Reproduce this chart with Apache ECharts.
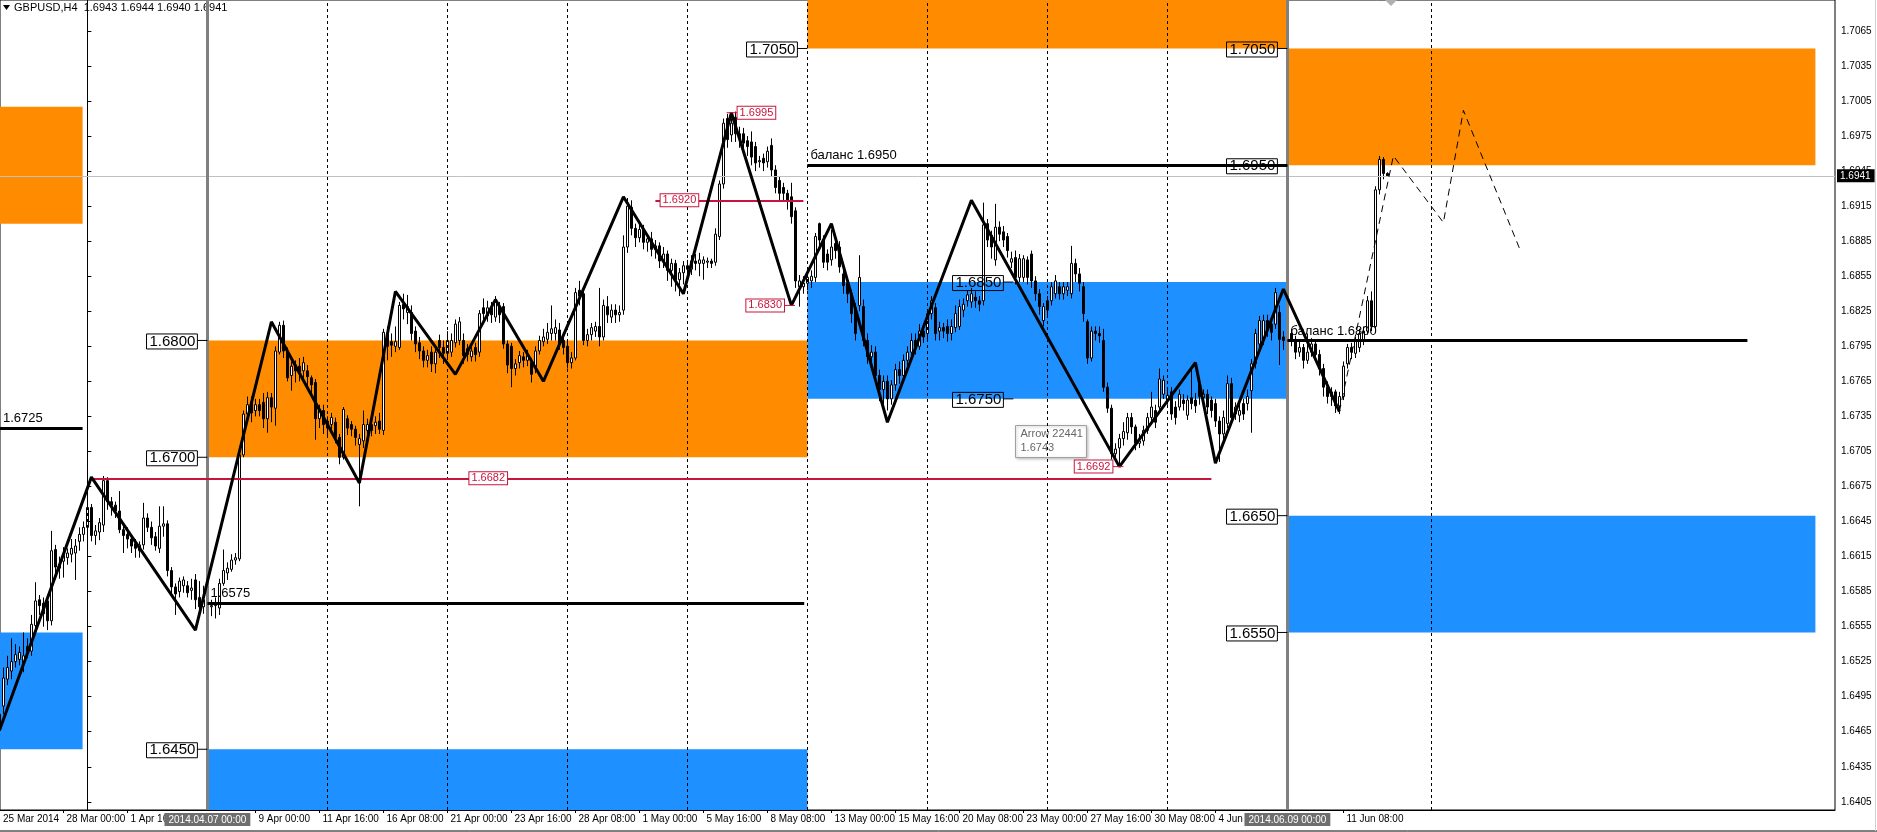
<!DOCTYPE html>
<html>
<head>
<meta charset="utf-8">
<script src="https://cdn.jsdelivr.net/npm/echarts@6/dist/echarts.min.js"></script>
<style>
  html, body { margin: 0; padding: 0; background: #fff; }
  #chart { width: 1877px; height: 832px; }
</style>
</head>
<body>
<div id="chart"></div>
<script>
// GBPUSD H4. x = bar number, bar 0 = Mon 31 Mar 2014 00:00 (30 bars a week)
// candles are [open, close, low, high] in pips above 1.6000
const wk0 = [ // from 25 Mar 08:00
  [470,480,462,486],[487,511,480,520],[510,520,505,530],[517,525,510,545],[525,531,520,540],
  [527,533,522,538],[524,530,516,550],[538,534,528,545],[534,557,530,565],[556,577,550,593],
  [578,573,565,582],[575,566,555,580],[577,560,552,582],[560,620,556,637],[621,606,600,625],
  [605,608,596,615],[611,616,597,623],[614,618,608,622],[617,622,610,630],[618,624,595,630],
  [628,634,620,640],[634,640,628,645]
];
const wk1 = [
  [640,657,636,662],[657,633,628,660],[633,637,625,642],[636,644,629,648],[642,680,636,684],
  [680,662,655,683],[662,659,650,666],[659,654,648,662],[654,638,635,671],[638,633,618,642],
  [634,630,622,640],[630,624,618,634],[626,622,614,630],[620,625,614,628],[625,648,621,661],
  [648,640,636,652],[640,631,625,645],[632,624,620,636],[622,641,618,658],[641,643,632,658],
  [643,603,598,646],[603,589,583,606],[589,583,565,592],[585,594,580,597],[590,595,584,598],
  [590,584,580,594],[586,588,578,596],[595,578,570,600],[580,572,566,594],[572,578,566,590]
];
const wk2 = [
  [576,572,566,580],[572,573,564,578],[573,575,562,580],[571,592,565,596],[592,603,590,621],
  [601,605,595,610],[604,612,602,617],[612,614,608,618],[613,702,611,705],[702,737,700,740],
  [737,745,730,752],[747,738,730,752],[740,745,735,750],[745,740,735,750],[747,733,725,755],
  [733,751,721,756],[751,743,730,755],[742,791,727,795],[790,813,788,816],[813,791,785,817],
  [791,768,765,794],[770,778,757,782],[779,774,764,783],[778,773,765,785],[774,781,768,786],
  [774,769,760,779],[768,762,752,770],[764,733,715,767],[733,740,725,745],[740,728,720,745]
];
const wk3 = [
  [731,725,718,735],[728,734,722,738],[730,717,712,734],[717,700,694,720],[700,741,698,743],
  [733,725,719,736],[728,724,718,731],[724,717,710,727],[711,716,658,720],[714,728,708,740],
  [723,728,718,733],[728,723,718,733],[727,730,720,735],[731,724,720,738],[723,807,719,810],
  [805,795,783,812],[799,796,786,806],[795,799,790,812],[794,830,792,833],[831,827,818,840],
  [824,829,814,839],[824,806,800,830],[808,797,790,812],[798,791,784,803],[791,783,777,795],
  [783,787,777,792],[790,780,773,795],[780,790,772,794],[800,794,785,805],[794,789,780,800]
];
const wk4 = [
  [789,800,785,808],[790,800,786,806],[798,814,794,818],[800,816,796,820],[800,787,780,806],
  [793,788,782,797],[786,791,782,796],[794,788,782,798],[790,823,786,826],[828,823,816,836],
  [821,828,816,834],[828,822,815,833],[820,835,816,838],[829,822,815,833],[829,797,793,832],
  [797,779,772,800],[795,776,760,798],[776,780,770,784],[781,787,776,791],[786,783,777,790],
  [783,787,778,792],[781,771,764,785],[777,791,772,795],[791,800,788,804],[799,803,795,810],
  [801,807,797,815],[806,810,800,830],[806,811,800,818],[809,797,792,815],[800,794,788,805]
];
const wk5 = [
  [795,781,776,800],[781,785,776,790],[785,841,783,845],[843,838,830,851],[840,800,796,845],
  [800,805,795,810],[805,811,800,815],[808,812,803,816],[812,803,795,845],[803,830,800,835],
  [829,822,815,838],[820,826,815,831],[826,822,815,831],[822,824,816,830],[826,880,822,890],
  [880,915,875,922],[914,896,890,920],[896,888,880,900],[888,895,884,902],[895,884,878,899],
  [884,887,876,891],[887,878,872,893],[878,881,870,886],[881,868,862,884],[868,874,862,880],
  [874,860,851,877],[860,866,846,870],[866,852,842,869],[852,858,838,862],[858,864,848,868]
];
const wk6 = [
  [864,861,855,869],[861,868,856,873],[868,866,860,874],[866,869,855,875],[866,869,852,872],
  [867,868,862,871],[868,866,862,870],[867,891,864,896],[889,934,886,937],[934,986,930,990],
  [990,972,965,994],[976,986,970,990],[991,977,970,996],[977,973,965,983],[977,969,962,982],
  [971,966,958,975],[970,957,950,979],[966,952,945,970],[953,954,948,958],[956,952,945,960],
  [953,962,948,966],[967,946,940,973],[946,931,926,950],[937,926,920,940],[931,926,920,935],
  [926,920,912,929],[923,906,900,935],[911,851,845,914],[846,851,829,856],[846,849,840,855]
];
const wk7 = [
  [849,854,843,860],[851,855,845,860],[854,889,850,892],[900,886,880,901],[886,867,862,890],
  [874,867,860,878],[869,880,864,895],[883,877,870,888],[880,863,858,885],[857,847,840,861],
  [849,840,832,852],[840,823,815,843],[828,806,800,832],[830,854,825,873],[829,800,795,835],
  [800,786,780,806],[786,790,778,796],[790,770,765,795],[770,758,748,775],[758,765,742,770],
  [765,750,740,770],[750,762,745,766],[762,775,757,780],[775,770,763,782],[770,783,765,788],
  [783,790,776,795],[790,800,785,806],[800,795,788,806],[795,808,792,814],[808,803,798,815]
];
const wk8 = [
  [806,823,800,827],[823,834,818,838],[828,806,800,832],[808,811,800,816],[811,808,802,815],
  [812,806,799,818],[806,812,800,818],[811,823,807,830],[812,829,809,835],[826,831,820,836],
  [834,839,829,843],[833,840,828,845],[837,834,828,842],[834,831,825,838],[834,899,830,918],
  [900,886,880,904],[890,880,870,894],[869,897,864,917],[897,891,885,902],[893,886,880,898],
  [889,877,871,892],[867,870,862,876],[871,854,848,877],[854,870,850,874],[854,870,850,873],
  [869,854,848,872],[874,851,845,877],[851,840,834,855],[840,829,822,844],[817,829,812,832]
];
const wk9 = [
  [834,826,820,838],[834,846,830,850],[840,851,836,856],[846,840,835,850],[840,846,835,850],
  [843,846,838,850],[840,866,836,881],[866,857,850,870],[857,849,842,862],[846,823,816,850],
  [816,785,780,818],[785,808,782,812],[808,806,800,812],[806,804,798,812],[800,760,756,810],
  [760,742,738,764],[742,703,698,745],[703,707,698,712],[708,716,692,720],[716,722,710,730],
  [721,734,715,738],[734,726,720,738],[726,712,706,728],[712,714,708,720],[714,723,710,727],
  [723,734,720,738],[734,743,730,756],[740,730,725,745],[743,767,740,776],[754,766,750,770]
];
const wk10 = [
  [749,753,745,758],[756,737,732,760],[743,734,728,748],[743,754,740,758],[749,746,740,754],
  [736,749,732,753],[751,746,741,778],[749,744,738,755],[763,752,745,768],[751,754,746,758],
  [754,743,737,758],[749,740,734,752],[746,731,726,750],[731,720,696,735],[720,734,712,740],
  [729,763,725,770],[763,734,728,768],[737,743,732,747],[736,740,730,746],[746,737,732,750],
  [746,752,740,758],[757,780,721,784],[780,806,776,810],[797,817,792,821],[800,817,796,822],
  [817,809,803,822],[814,807,800,818],[814,841,810,845],[824,801,779,830],[803,800,792,808]
];
const wk11 = [
  [800,806,796,812],[806,801,795,810],[801,790,784,804],[790,794,786,799],[794,783,776,797],
  [783,790,780,806],[790,797,786,802],[797,788,782,800],[788,776,770,792],[776,760,752,780],
  [760,752,746,765],[752,756,744,760],[756,744,738,758],[744,752,737,756],[752,778,749,782],
  [780,794,776,797],[794,790,784,798],[789,800,785,803],[794,806,790,810],[800,808,796,812],
  [808,834,805,838],[834,812,808,842],[812,929,810,932],[929,955,925,958],[955,943,938,957],
  [943,941,940,944]
];
const weeks = [wk0, wk1, wk2, wk3, wk4, wk5, wk6, wk7, wk8, wk9, wk10, wk11];
const weekFirstBar = [-22, 0, 30, 60, 90, 120, 150, 180, 210, 240, 270, 300];

// zigzag + hand drawn forecast
const zigzagX = [-22, 1, 27, 46, 68, 77, 92, 102, 114, 134, 149, 161, 176, 186, 200, 221, 258, 277, 282, 299, 313];
const zigzagY = [1.6466, 1.6683, 1.6552, 1.6816, 1.6678, 1.6842, 1.6771, 1.6835, 1.6765, 1.6923, 1.6840,
                 1.6995, 1.6830, 1.6900, 1.6730, 1.6920, 1.6692, 1.6781, 1.6695, 1.6844, 1.6739];
const forecastX = [313, 326.5, 339, 344, 358];
const forecastY = [1.6739, 1.6958, 1.6901, 1.6997, 1.6879];

// supply / demand zones
const zoneFrom = [-23, -23, 30, 30, 180, 180, 300, 300];
const zoneTo   = [-1.2, -1.2, 180, 180, 300, 300, 432, 432];
const zoneLow  = [1.6900, 1.6450, 1.6700, 1.6350, 1.7050, 1.6750, 1.6950, 1.6550];
const zoneHigh = [1.7000, 1.6550, 1.6800, 1.6450, 1.7150, 1.6850, 1.7050, 1.6650];
const zoneKind = ['sell', 'buy', 'sell', 'buy', 'sell', 'buy', 'sell', 'buy'];

// boxed level tags
const tagX = [30, 30, 30, 180, 231.5, 231.5, 300, 300, 300, 300];
const tagY = [1.6800, 1.6700, 1.6450, 1.7050, 1.6850, 1.6750, 1.7050, 1.6950, 1.6650, 1.6550];

// thick black levels
const levelFrom  = [-23, 30, 180, 300];
const levelTo    = [-1.2, 179.2, 300, 415];
const levelPrice = [1.6725, 1.6575, 1.6950, 1.6800];
const levelText  = ['1.6725', '1.6575', 'баланс 1.6950', 'баланс 1.6800'];

// red levels and red price tags
const redFrom  = [1.4, 142];
const redTo    = [281, 179];
const redPrice = [1.6682, 1.6920];
const redTagX  = [95.5, 143.3, 159.8, 176.9, 259];
const redTagY  = [1.6682, 1.6920, 1.6995, 1.6830, 1.6692];
const redTagSide = [0, 0, 1, -1, -1];

const weekLines = [0, 60, 90, 120, 150, 180, 210, 240, 270, 336];
const markedBars = [30, 300];
const markedText = ['2014.04.07 00:00', '2014.06.09 00:00'];

const xTickBars = [-21.85, -6, 10, 42, 58, 74, 90, 106, 122, 138, 154, 170, 186, 202, 218, 234, 250, 266, 282, 314];
const xTickText = ['25 Mar 2014', '28 Mar 00:00', '1 Apr 16:00', '9 Apr 00:00', '11 Apr 16:00', '16 Apr 08:00',
  '21 Apr 00:00', '23 Apr 16:00', '28 Apr 08:00', '1 May 00:00', '5 May 16:00', '8 May 08:00', '13 May 00:00',
  '15 May 16:00', '20 May 08:00', '23 May 00:00', '27 May 16:00', '30 May 08:00', '4 Jun 00:00', '11 Jun 08:00'];
const yTicks = [1.6405, 1.6435, 1.6465, 1.6495, 1.6525, 1.6555, 1.6585, 1.6615, 1.6645, 1.6675, 1.6705, 1.6735,
  1.6765, 1.6795, 1.6825, 1.6855, 1.6885, 1.6915, 1.6945, 1.6975, 1.7005, 1.7035, 1.7065];
const lastPrice = 1.6941;

const xMin = -21.85, xMax = 436.9;
const yMin = 1.6398, yMax = 1.70915;
const FONT = '"Liberation Sans", Arial, sans-serif';
const zoneColor = { sell: '#ff8c00', buy: '#1e90ff' };

const px = p => +(1.6 + p / 10000).toFixed(4);
const candles = [];
weeks.forEach((wk, w) => wk.forEach((b, k) => {
  candles.push([weekFirstBar[w] + k, px(b[0]), px(b[1]), px(b[2]), px(b[3])]);
}));

const chart = echarts.init(document.getElementById('chart'));

const option = {
  animation: false,
  backgroundColor: '#fff',
  grid: { left: 0, right: 42, top: 0, bottom: 22, show: true, borderColor: '#000', borderWidth: 1 },
  xAxis: [{
    type: 'value', min: xMin, max: xMax, position: 'bottom',
    axisLine: { show: true, lineStyle: { color: '#000' } },
    axisTick: { show: true, customValues: xTickBars.slice(1), length: 3, lineStyle: { color: '#000' } },
    axisLabel: {
      customValues: xTickBars, align: 'left', margin: 4, padding: [0, 0, 0, 3],
      fontSize: 10, fontFamily: FONT, color: '#000',
      formatter: v => xTickText[xTickBars.indexOf(v)] || ''
    },
    splitLine: { show: false }
  }, {
    type: 'value', min: xMin, max: xMax, position: 'bottom',
    axisLine: { show: false }, axisTick: { show: false }, splitLine: { show: false },
    axisLabel: {
      customValues: markedBars, align: 'center', margin: 3,
      fontSize: 10, fontFamily: FONT, color: '#fff', backgroundColor: '#6e6e6e', padding: [2, 4, 1, 4],
      formatter: v => markedText[markedBars.indexOf(v)] || ''
    }
  }],
  yAxis: {
    type: 'value', position: 'right', min: yMin, max: yMax,
    axisLine: { show: true, lineStyle: { color: '#000' } },
    axisTick: { show: true, customValues: yTicks, length: 4, lineStyle: { color: '#000' } },
    axisLabel: {
      customValues: yTicks, margin: 6, fontSize: 10, fontFamily: FONT, color: '#000',
      formatter: v => v.toFixed(4)
    },
    splitLine: { show: false }
  },
  series: [
    {
      name: 'zones', type: 'line', data: [], z: 1, silent: true,
      markArea: {
        silent: true,
        data: zoneFrom.map((x0, k) => [
          { xAxis: Math.max(x0, xMin), yAxis: Math.max(zoneLow[k], yMin),
            itemStyle: { color: zoneColor[zoneKind[k]] } },
          { xAxis: Math.min(zoneTo[k], xMax), yAxis: Math.min(zoneHigh[k], yMax) }
        ])
      }
    },
    {
      name: 'separators', type: 'line', data: [], z: 2, silent: true,
      markLine: {
        silent: true, symbol: ['none', 'none'], precision: 4,
        data: weekLines.map(x => ({ xAxis: x, lineStyle: { color: '#000', width: 1, type: [3, 3] }, label: { show: false } }))
      }
    },
    {
      name: 'last', type: 'line', data: [], z: 2, silent: true,
      markLine: {
        silent: true, symbol: ['none', 'none'], precision: 4,
        data: [{
          yAxis: lastPrice, lineStyle: { color: '#c0c0c0', width: 1, type: 'solid' },
          label: { show: true, position: 'end', distance: 2, formatter: lastPrice.toFixed(4),
            backgroundColor: '#000', color: '#fff', fontSize: 10, fontFamily: FONT, padding: [2, 4, 1, 3] }
        }]
      }
    },
    {
      name: 'GBPUSD', type: 'candlestick', z: 3, barWidth: 3,
      data: candles, encode: { x: 0, y: [1, 2, 3, 4] },
      itemStyle: { color: '#fff', color0: '#000', borderColor: '#000', borderColor0: '#000', borderWidth: 1 }
    },
    {
      name: 'marks', type: 'line', data: [], z: 4, silent: true,
      markLine: {
        silent: true, symbol: ['none', 'none'], precision: 4,
        data: markedBars.map(x => ({ xAxis: x, lineStyle: { color: '#808080', width: 3, type: 'solid' }, label: { show: false } }))
      }
    },
    {
      name: 'levels', type: 'line', data: [], z: 5, silent: true,
      markLine: {
        silent: true, symbol: ['none', 'none'], precision: 4,
        lineStyle: { color: '#000', width: 3, type: 'solid' },
        label: { show: true, position: 'insideStartTop', distance: 3, formatter: '{b}',
          color: '#000', fontSize: 13, fontFamily: FONT },
        data: levelFrom.map((x0, k) => [
          { coord: [Math.max(x0, xMin), levelPrice[k]], name: levelText[k] },
          { coord: [levelTo[k], levelPrice[k]] }
        ]).concat(redFrom.map((x0, k) => [
          { coord: [x0, redPrice[k]], name: '', lineStyle: { color: '#c8143c', width: 2 }, label: { show: false } },
          { coord: [redTo[k], redPrice[k]] }
        ]))
      }
    },
    {
      name: 'zigzag', type: 'line', z: 5, silent: true, symbol: 'none',
      data: zigzagX.map((x, k) => [x, zigzagY[k]]),
      lineStyle: { color: '#000', width: 3 }
    },
    {
      name: 'forecast', type: 'line', z: 5, silent: true, symbol: 'none',
      data: forecastX.map((x, k) => [x, forecastY[k]]),
      lineStyle: { color: '#000', width: 1, type: [7, 5] }
    },
    {
      name: 'tags', type: 'custom', z: 6, silent: true,
      data: tagX.map((x, k) => [x, tagY[k]]),
      renderItem: (params, api) => {
        const p = api.coord([api.value(0), api.value(1)]);
        return { type: 'group', children: [
          { type: 'line', shape: { x1: p[0] - 10, y1: p[1], x2: p[0], y2: p[1] }, style: { stroke: '#000', lineWidth: 1 } },
          { type: 'text', x: p[0] - 10, y: p[1] + 1, style: {
            text: api.value(1).toFixed(4), align: 'right', verticalAlign: 'middle',
            font: '15px ' + FONT, fill: '#000', borderColor: '#000', borderWidth: 1, padding: [0, 2, 0, 3] } }
        ] };
      }
    },
    {
      name: 'redTags', type: 'custom', z: 6, silent: true,
      data: redTagX.map((x, k) => [x, redTagY[k], redTagSide[k]]),
      renderItem: (params, api) => {
        const p = api.coord([api.value(0), api.value(1)]);
        const side = api.value(2);
        const kids = [];
        let tx = p[0];
        if (side !== 0) {
          kids.push({ type: 'line', shape: { x1: p[0], y1: p[1], x2: p[0] + side * 11, y2: p[1] },
            style: { stroke: '#c8143c', lineWidth: 1 } });
          tx = p[0] + side * 11;
        }
        kids.push({ type: 'text', x: tx, y: p[1], style: {
          text: api.value(1).toFixed(4), align: side < 0 ? 'right' : 'left', verticalAlign: 'middle',
          font: '11px ' + FONT, fill: '#c8143c', backgroundColor: '#fff',
          borderColor: '#c8143c', borderWidth: 1, padding: [1, 2, 0, 2] } });
        return { type: 'group', children: kids };
      }
    }
  ],
  graphic: [
    { type: 'polygon', shape: { points: [[3, 5], [10, 5], [6.5, 10]] }, style: { fill: '#000' } },
    { type: 'text', left: 14, top: 2, style: { text: 'GBPUSD,H4  1.6943 1.6944 1.6940 1.6941', font: '11px ' + FONT, fill: '#000' } },
    { type: 'polygon', shape: { points: [[1385, 0], [1397, 0], [1391, 6]] }, style: { fill: '#b0b0b0' } },
    { type: 'group', left: 1015, top: 425, children: [
      { type: 'rect', shape: { x: 0, y: 0, width: 71, height: 32 },
        style: { fill: '#fff', stroke: '#a0a0a0', lineWidth: 1, shadowBlur: 3, shadowColor: 'rgba(0,0,0,0.25)', shadowOffsetX: 1, shadowOffsetY: 1 } },
      { type: 'text', x: 5, y: 3, style: { text: 'Arrow 22441', font: '11px ' + FONT, fill: '#666' } },
      { type: 'text', x: 5, y: 17, style: { text: '1.6743', font: '11px ' + FONT, fill: '#666' } }
    ] },
    { type: 'line', shape: { x1: 0, y1: 831, x2: 1877, y2: 831 }, style: { stroke: '#000', lineWidth: 1 } },
    { type: 'line', shape: { x1: 1875.5, y1: 0, x2: 1875.5, y2: 831 }, style: { stroke: '#d0d0d0', lineWidth: 1 } }
  ]
};

chart.setOption(option);
</script>
</body>
</html>
